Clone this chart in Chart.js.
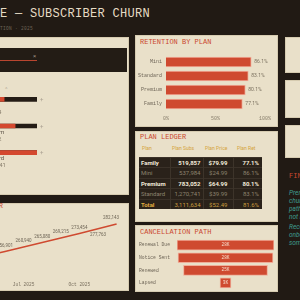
<!DOCTYPE html>
<html>
<head>
<meta charset="utf-8">
<script src="https://cdn.jsdelivr.net/npm/chart.js@4.4.1/dist/chart.umd.min.js"></script>
<style>
html, body { margin: 0; padding: 0; width: 300px; height: 300px; overflow: hidden; background: #211a14; font-family: Roboto, "Liberation Sans", sans-serif; }
.panel { position: absolute; background: #e9e0c9; box-sizing: border-box; border: 1px solid #d6cbb0; }
.mono { font-family: "Liberation Mono", monospace; }
.ptitle { position: absolute; font-family: "Liberation Mono", monospace; font-size: 7px; line-height: 7px; color: #c9472f; white-space: nowrap; }
canvas { position: absolute; }
#title { position: absolute; left: -30px; top: 8px; font-family: "Liberation Mono", monospace; font-size: 12px; line-height: 12px; letter-spacing: 0.3px; color: #e6dcc4; white-space: nowrap; }
#subtitle { position: absolute; left: -39px; top: 26px; font-family: "Liberation Mono", monospace; font-size: 4.5px; line-height: 5px; letter-spacing: 0.3px; color: #6e6557; white-space: nowrap; }
#selBox { position: absolute; left: -155px; width: 282px; top: 48px; height: 24px; background: #231c15; }
#selLine { position: absolute; left: -150px; width: 187px; top: 59.5px; height: 1.4px; background: #b9452f; }
#selX { position: absolute; left: 33px; top: 53px; font-size: 6px; line-height: 6px; color: #9a9080; }
#caret { position: absolute; left: 5px; top: 86px; font-size: 6px; line-height: 6px; color: #b8ae9c; }
table { border-collapse: collapse; table-layout: fixed; position: absolute; }
#ledgerHead { left: 139px; top: 145px; width: 123px; font-size: 5px; color: #d5a43c; }
#ledgerHead td { padding: 0; height: 6px; line-height: 6px; white-space: nowrap; }
#ledger { left: 139px; top: 157px; width: 123px; background: #2a221a; font-size: 6px; }
#ledger td { height: 9.4px; line-height: 9.4px; padding: 0; white-space: nowrap; border-top: 1px solid #3a3128; }
#ledger td + td { border-left: 1px solid #3d342a; text-align: right; }
#findings { position: absolute; left: 289px; top: 189px; font-style: italic; font-size: 6.5px; line-height: 8px; color: #3f9c8e; white-space: nowrap; }
#findings p { margin: 0 0 2px 0; }
</style>
</head>
<body>
<div id="title">PULSE — SUBSCRIBER CHURN</div>
<div id="subtitle">CHURN &amp; RETENTION · 2025</div>

<div class="panel" style="left:-160px;top:37px;width:289px;height:158px"></div>
<div id="selBox"></div>
<div id="selLine"></div>
<div id="selX">×</div>
<div id="caret">^</div>
<canvas id="listChart" width="80" height="95" style="left:-30px;top:85px"></canvas>

<div class="panel" style="left:-160px;top:203px;width:289px;height:88px"></div>
<div class="ptitle" style="left:-39px;top:203px">SUBSCRIBER</div>
<canvas id="lineChart" width="225" height="82" style="left:-100px;top:208px"></canvas>

<div class="panel" style="left:135px;top:35px;width:143px;height:92px"></div>
<div class="ptitle" style="left:140px;top:39px">RETENTION BY PLAN</div>
<canvas id="retChart" width="143" height="78" style="left:135px;top:47px"></canvas>

<div class="panel" style="left:135px;top:131px;width:143px;height:91px"></div>
<div class="ptitle" style="left:140px;top:134px">PLAN LEDGER</div>
<table id="ledgerHead"><colgroup><col style="width:31px"><col style="width:33px"><col style="width:30px"><col style="width:29px"></colgroup>
<tr><td style="padding-left:3px">Plan</td><td style="padding-left:2px">Plan Subs</td><td style="padding-left:2px">Plan Price</td><td style="padding-left:4px">Plan Ret</td></tr></table>
<table id="ledger"><colgroup><col style="width:31px"><col style="width:33px"><col style="width:30px"><col style="width:29px"></colgroup><tbody id="ledgerBody"></tbody></table>

<div class="panel" style="left:135px;top:225px;width:143px;height:67px"></div>
<div class="ptitle" style="left:140px;top:229px">CANCELLATION PATH</div>
<canvas id="funnelChart" width="143" height="56" style="left:135px;top:236px"></canvas>

<div class="panel" style="left:285px;top:37px;width:30px;height:36px"></div>
<div class="panel" style="left:285px;top:80px;width:30px;height:38px"></div>
<div class="panel" style="left:285px;top:125px;width:30px;height:33px"></div>
<div class="ptitle" style="left:289px;top:173px">FINDINGS</div>
<div id="findings">
<p>Premium and Family<br>churn highest; the<br>path from notice to<br>not renewing is short.</p>
<p>Recommend early<br>onboarding nudges for<br>some plans.</p>
</div>

<script>
Chart.defaults.font.family = '"Liberation Mono", monospace';
Chart.defaults.color = '#7a705f';
Chart.defaults.animation = false;

const PLANS = ['Family', 'Mini', 'Premium', 'Standard'];
const PLAN_SUBS = [519857, 537984, 783052, 1270741];
const PLAN_PRICE = [79.99, 24.99, 64.99, 39.99];
const PLAN_RET = [77.1, 86.1, 80.1, 83.1];
const TOTAL_SUBS = 3111634;
const TOTAL_PRICE = 52.49;
const TOTAL_RET = 81.6;
const SELECTED_PLAN = 'Family';

const MONTHS = ['Jan 2025', 'Feb 2025', 'Mar 2025', 'Apr 2025', 'May 2025', 'Jun 2025',
                'Jul 2025', 'Aug 2025', 'Sep 2025', 'Oct 2025', 'Nov 2025', 'Dec 2025'];
const ACTIVE_SUBS = [237600, 241500, 245300, 249100, 252900, 256901, 260940, 265080, 269215, 273454, 277763, 282143];

const FUNNEL_STAGES = ['Renewal Due', 'Notice Sent', 'Renewed', 'Lapsed'];
const FUNNEL_VALUES = [28400, 27800, 24600, 3200];

const RED = '#cf4a30';
const noLegend = { legend: { display: false }, tooltip: { enabled: false } };

// ---- plan list (left) ----
const listPlans = PLANS.filter(p => p !== SELECTED_PLAN);
const listSubs = listPlans.map(p => PLAN_SUBS[PLANS.indexOf(p)]);
const listMax = Math.max(...listSubs);

const listLabels = {
    id: 'listLabels',
    afterDatasetsDraw(chart) {
        const { ctx, chartArea } = chart;
        const bars = chart.getDatasetMeta(0).data;
        ctx.save();
        ctx.textBaseline = 'middle';
        bars.forEach((b, i) => {
            ctx.font = '6px Roboto';
            ctx.fillStyle = '#5e5549';
            ctx.fillText(listPlans[i], chartArea.left, b.y + 6);
            ctx.fillStyle = '#8a806e';
            ctx.fillText(listSubs[i].toLocaleString('en-US'), chartArea.left, b.y + 13);
            ctx.fillStyle = '#aaa092';
            ctx.fillText('+', chartArea.right + 3, b.y);
        });
        ctx.restore();
    }
};

new Chart(document.getElementById('listChart'), {
    type: 'bar',
    data: {
        labels: listPlans,
        datasets: [
            { data: listSubs, backgroundColor: '#d4492f', barThickness: 4, grouped: false, order: 0 },
            { data: listSubs.map(() => listMax), backgroundColor: '#241c15', barThickness: 4, grouped: false, order: 1 }
        ]
    },
    options: {
        indexAxis: 'y', responsive: false,
        layout: { padding: { left: 10, right: 13, top: 1, bottom: 14 } },
        plugins: noLegend,
        scales: { x: { display: false, min: 0, max: listMax }, y: { display: false } }
    },
    plugins: [listLabels]
});

// ---- retention by plan ----
const retOrder = PLANS.map((p, i) => i).sort((a, b) => PLAN_RET[b] - PLAN_RET[a]);

const retValueLabels = {
    id: 'retValueLabels',
    afterDatasetsDraw(chart) {
        const { ctx } = chart;
        ctx.save();
        ctx.font = '5px Roboto';
        ctx.fillStyle = '#7a705f';
        ctx.textBaseline = 'middle';
        chart.getDatasetMeta(0).data.forEach((b, i) => {
            ctx.fillText(chart.data.datasets[0].data[i].toFixed(1) + '%', b.x + 3, b.y);
        });
        ctx.restore();
    }
};

new Chart(document.getElementById('retChart'), {
    type: 'bar',
    data: {
        labels: retOrder.map(i => PLANS[i]),
        datasets: [{ data: retOrder.map(i => PLAN_RET[i]), backgroundColor: RED, borderColor: '#f0ad98', borderWidth: 1, barThickness: 10 }]
    },
    options: {
        indexAxis: 'y', responsive: false,
        layout: { padding: { left: 0, right: 13, top: 8, bottom: 0 } },
        plugins: noLegend,
        scales: {
            x: {
                min: 0, max: 100,
                grid: { display: false, drawTicks: false }, border: { display: false },
                ticks: { stepSize: 50, callback: v => v + '%', font: { size: 5 }, color: '#8a806e', padding: 5 },
                afterFit(s) { s.height = 14; }
            },
            y: {
                grid: { display: false, drawTicks: false }, border: { display: false },
                ticks: { font: { size: 5 }, color: '#6e6557', padding: 4 },
                afterFit(s) { s.width = 31; }
            }
        }
    },
    plugins: [retValueLabels]
});

// ---- ledger ----
const body = document.getElementById('ledgerBody');
const fmt = n => n.toLocaleString('en-US');
PLANS.forEach((p, i) => {
    const low = PLAN_RET[i] < TOTAL_RET;
    const tr = document.createElement('tr');
    tr.style.color = low ? '#f3ecdc' : '#8d836f';
    tr.style.fontWeight = low ? 'bold' : 'normal';
    tr.innerHTML = `<td style="padding-left:2px">${p}</td><td style="padding-right:2px">${fmt(PLAN_SUBS[i])}</td>` +
        `<td style="padding-right:5px">$${PLAN_PRICE[i].toFixed(2)}</td><td style="padding-right:3px">${PLAN_RET[i].toFixed(1)}%</td>`;
    body.appendChild(tr);
});
const tot = document.createElement('tr');
tot.style.color = '#c99c3e';
tot.innerHTML = `<td style="padding-left:2px;font-weight:bold;color:#e0ad40">Total</td><td style="padding-right:2px">${fmt(TOTAL_SUBS)}</td>` +
    `<td style="padding-right:5px">$${TOTAL_PRICE.toFixed(2)}</td><td style="padding-right:3px">${TOTAL_RET.toFixed(1)}%</td>`;
body.appendChild(tot);

// ---- cancellation path ----
const funnelHalf = Math.max(...FUNNEL_VALUES) / 2;

const funnelLabels = {
    id: 'funnelLabels',
    afterDatasetsDraw(chart) {
        const { ctx } = chart;
        ctx.save();
        ctx.font = '4.5px "Liberation Mono"';
        ctx.fillStyle = '#f6dccb';
        ctx.textAlign = 'center';
        ctx.textBaseline = 'middle';
        chart.getDatasetMeta(0).data.forEach((b, i) => {
            ctx.fillText(Math.round(FUNNEL_VALUES[i] / 1000) + 'K', b.x - (b.x - b.base) / 2, b.y);
        });
        ctx.restore();
    }
};

new Chart(document.getElementById('funnelChart'), {
    type: 'bar',
    data: {
        labels: FUNNEL_STAGES,
        datasets: [{ data: FUNNEL_VALUES.map(v => [-v / 2, v / 2]), backgroundColor: RED, borderColor: '#f0ad98', borderWidth: 1, borderSkipped: false, barThickness: 10 }]
    },
    options: {
        indexAxis: 'y', responsive: false,
        layout: { padding: { left: 4, right: 4, top: 2.6, bottom: 2.4 } },
        plugins: noLegend,
        scales: {
            x: { display: false, min: -funnelHalf, max: funnelHalf },
            y: {
                grid: { display: false, drawTicks: false }, border: { display: false },
                ticks: { font: { size: 4.7 }, color: '#6e6557', crossAlign: 'far', padding: 0 },
                afterFit(s) { s.width = 38; }
            }
        }
    },
    plugins: [funnelLabels]
});

// ---- active subscribers line ----
const lineLabels = {
    id: 'lineLabels',
    afterDatasetsDraw(chart) {
        const { ctx, chartArea } = chart;
        const pts = chart.getDatasetMeta(0).data;
        const vals = chart.data.datasets[0].data;
        const placed = [];
        const hit = b => placed.some(p => b.l < p.r + 1 && b.r > p.l - 1 && b.t < p.b + 1 && b.b > p.t - 1);
        ctx.save();
        ctx.font = '4.5px Roboto';
        ctx.fillStyle = '#6e6556';
        ctx.textAlign = 'center';
        ctx.textBaseline = 'middle';
        for (let i = pts.length - 1; i >= 0; i--) {
            const txt = fmt(vals[i]);
            const w = ctx.measureText(txt).width;
            const cx = Math.min(pts[i].x, chartArea.right + 2.5 - w / 2);
            for (const dy of [-6, 6]) {
                const y = pts[i].y + dy;
                const b = { l: cx - w / 2, r: cx + w / 2, t: y - 2.5, b: y + 2.5 };
                if (!hit(b)) { placed.push(b); ctx.fillText(txt, cx, y); break; }
            }
        }
        ctx.restore();
    }
};

new Chart(document.getElementById('lineChart'), {
    type: 'line',
    data: {
        labels: MONTHS,
        datasets: [{ data: ACTIVE_SUBS, borderColor: RED, borderWidth: 1.5, pointRadius: 0, tension: 0, fill: false }]
    },
    options: {
        responsive: false,
        layout: { padding: { left: 12, right: 8.4, top: 7.4, bottom: 0 } },
        plugins: noLegend,
        scales: {
            y: { display: false, min: 230000, max: 290000 },
            x: {
                offset: false,
                grid: { display: false, drawTicks: false }, border: { display: false },
                ticks: {
                    autoSkip: false, maxRotation: 0, padding: 1, font: { size: 4.5 }, color: '#7a705f',
                    callback(v, i) { return i % 3 === 0 ? this.getLabelForValue(v) : ''; }
                },
                afterFit(s) { s.height = 9.2; }
            }
        }
    },
    plugins: [lineLabels]
});
</script>
</body>
</html>
